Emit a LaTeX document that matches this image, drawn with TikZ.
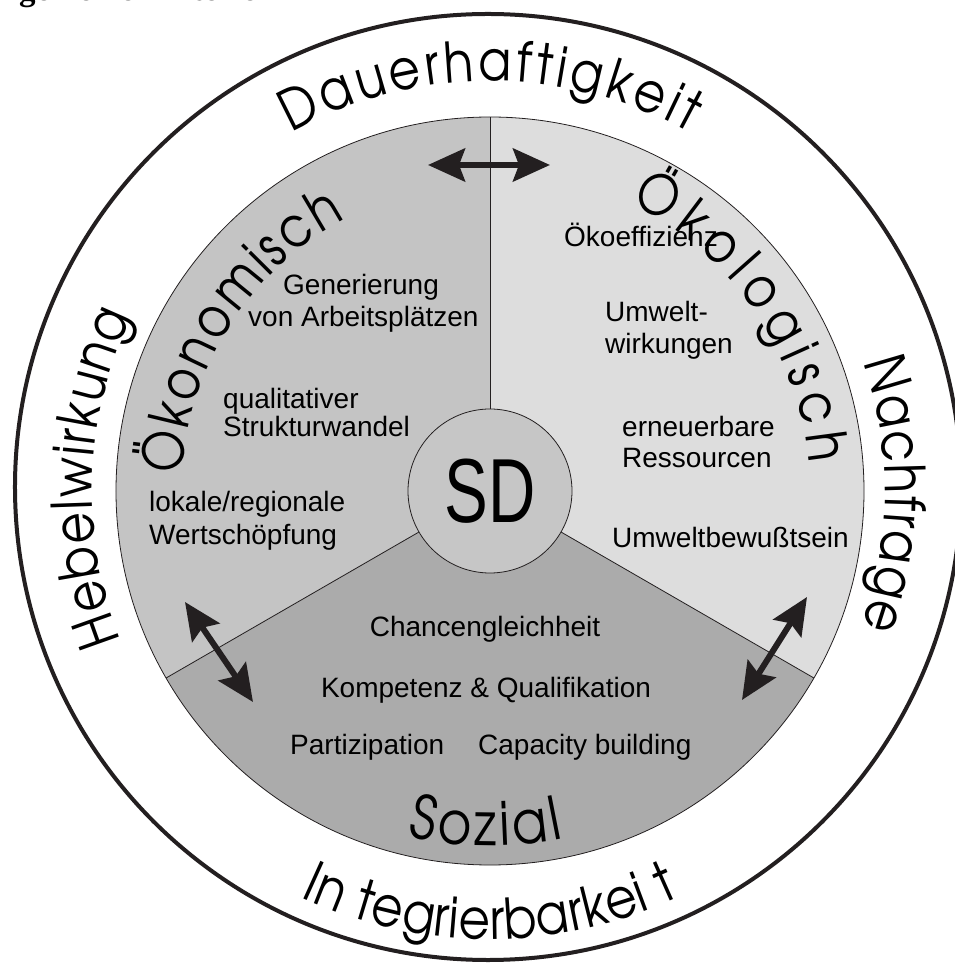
\documentclass[tikz,border=0pt]{standalone}
\usepackage{fontspec}
\setmainfont{Liberation Sans}
\newfontfamily\gothic{texgyreadventor-regular.otf}[FakeStretch=0.86]
\newfontfamily\narrowsans{Liberation Sans}[FakeStretch=0.72]
\newfontfamily\titleserif{Liberation Serif}
\usetikzlibrary{decorations.text,arrows.meta}
\definecolor{econ}{HTML}{C4C4C4}
\definecolor{ecol}{HTML}{DDDDDD}
\definecolor{soz}{HTML}{ABABAB}
\definecolor{sdc}{HTML}{C6C6C6}
\definecolor{ink}{HTML}{231F20}
\tikzset{
  itxt/.style={inner sep=0pt, font=\fontsize{28}{31}\selectfont},
  dblarrow/.style={ink, line width=6pt, {Stealth[length=37pt,width=33pt,inset=6pt]}-{Stealth[length=37pt,width=33pt,inset=6pt]}},
  thinline/.style={ink, line width=0.8pt}
}
\begin{document}
\begin{tikzpicture}[x=1pt,y=1pt]
\useasboundingbox (-490,-474) rectangle (464,491);
% title (cropped)
\node[anchor=base east, inner sep=0pt, font=\titleserif\bfseries\fontsize{33}{33}\selectfont] (title) at (-215,490) {Allgemeine Kriterien};
% outer ring
\draw[ink, line width=4pt] (-2,4) circle[radius=473];
% sectors
\fill[econ] (0,0) -- (90:374) arc[start angle=90,end angle=210,radius=374] -- cycle;
\fill[ecol] (0,0) -- (-30:374) arc[start angle=-30,end angle=90,radius=374] -- cycle;
\fill[soz] (0,0) -- (210:374) arc[start angle=210,end angle=330,radius=374] -- cycle;
\coordinate (c) at (0,0);
\coordinate (ptop) at (90:374);
\coordinate (pleft) at (210:374);
\coordinate (pright) at (330:374);
\draw[thinline] (c) -- (ptop);
\draw[thinline] (c) -- (pleft);
\draw[thinline] (c) -- (pright);
\draw[thinline] (c) circle[radius=374];
% centre
\node[circle, draw=ink, line width=0.8pt, fill=sdc, minimum size=164pt, inner sep=0pt, font=\narrowsans\fontsize{91}{91}\selectfont] (sd) at (0,0) {SD};
% curved labels
\path[decorate, decoration={text along path, text align={fit to path}, text={|\gothic\fontsize{56}{60}\selectfont|Dauerhaftigkeit}}] (119:410) arc[start angle=119, end angle=61, radius=410];
\path[decorate, decoration={text along path, text align={fit to path}, text={|\gothic\fontsize{56}{60}\selectfont|Nachfrage}}] (19:395) arc[start angle=19, end angle=-20, radius=395];
\path[decorate, decoration={text along path, text align={fit to path}, text={|\gothic\fontsize{56}{60}\selectfont|Hebelwirkung}}] (202:398) arc[start angle=202, end angle=154, radius=398];
\path[decorate, decoration={text along path, text align={fit to path}, text={|\gothic\fontsize{56}{60}\selectfont|In tegrierbarkei t}}] (245:448) arc[start angle=245, end angle=295, radius=448];
\path[decorate, decoration={text along path, text align={fit to path}, text={|\gothic\fontsize{56}{60}\selectfont|Ökonomisch}}] (177:308) arc[start angle=177, end angle=118, radius=308];
\path[decorate, decoration={text along path, text align={fit to path}, text={|\gothic\fontsize{56}{60}\selectfont|Ökologisch}}] (64:320) arc[start angle=64, end angle=5, radius=320];
\path[decorate, decoration={text along path, text align={fit to path}, text={|\gothic\fontsize{60}{64}\selectfont|Sozial}}] (256.5:355) arc[start angle=256.5, end angle=282, radius=355];
% inner texts (image x - 490, 491 - image y)
\node[itxt, anchor=base west] (gen1) at (-207,196) {Generierung};
\node[itxt, anchor=base west] (gen2) at (-242,164) {von Arbeitsplätzen};
\node[itxt, anchor=base west] (qual1) at (-267,82) {qualitativer};
\node[itxt, anchor=base west] (qual2) at (-267,54) {Strukturwandel};
\node[itxt, anchor=base west] (lok1) at (-341,-21) {lokale/regionale};
\node[itxt, anchor=base west] (lok2) at (-341,-54) {Wertschöpfung};
\node[itxt, anchor=base west] (oeko) at (74,244) {Ökoeffizienz};
\node[itxt, anchor=base west] (umw1) at (115,169) {Umwelt-};
\node[itxt, anchor=base west] (umw2) at (115,137) {wirkungen};
\node[itxt, anchor=base west] (ern1) at (132,54) {erneuerbare};
\node[itxt, anchor=base west] (ern2) at (132,23) {Ressourcen};
\node[itxt, anchor=base west] (bew) at (122,-57) {Umweltbewußtsein};
\node[itxt, anchor=base] (chan) at (-5,-146) {Chancengleichheit};
\node[itxt, anchor=base] (komp) at (-4,-206) {Kompetenz \& Qualifikation};
\node[itxt, anchor=base west] (part) at (-200,-263) {Partizipation};
\node[itxt, anchor=base west] (capa) at (-12,-263) {Capacity building};
% arrows
\coordinate (at1) at (-62,326);
\coordinate (at2) at (60,326);
\coordinate (al1) at (-305,-111);
\coordinate (al2) at (-237,-211);
\coordinate (ar1) at (317,-106);
\coordinate (ar2) at (252,-209);
\draw[dblarrow] (at1) -- (at2);
\draw[dblarrow] (al1) -- (al2);
\draw[dblarrow] (ar1) -- (ar2);
\end{tikzpicture}
\end{document}
